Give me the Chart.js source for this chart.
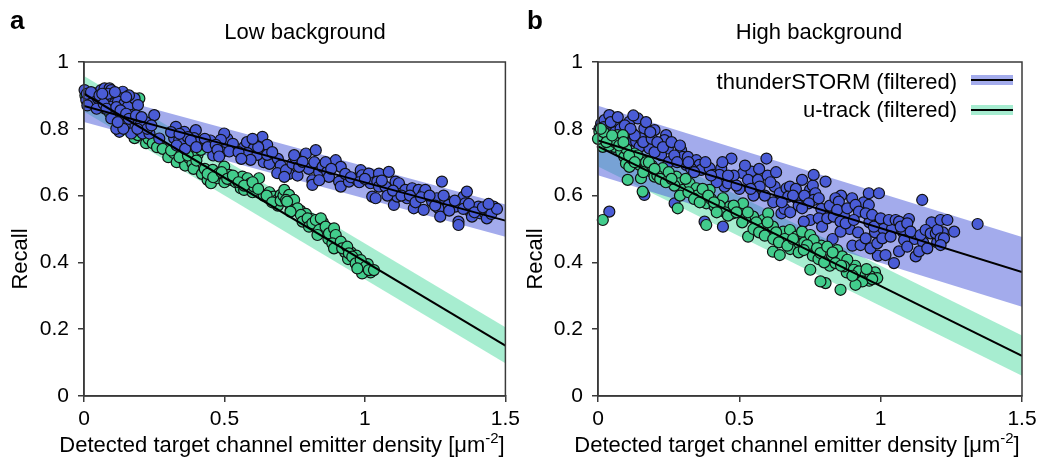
<!DOCTYPE html>
<html>
<head>
<meta charset="utf-8">
<script src="https://cdn.jsdelivr.net/npm/chart.js@4.4.1/dist/chart.umd.min.js"></script>
<style>
  html, body { margin: 0; padding: 0; background: #fff; }
  #wrap { position: relative; width: 1051px; height: 465px; overflow: hidden; background: #fff; }
  #wrap canvas { position: absolute; top: 0; }
</style>
</head>
<body>
<div id="wrap">
  <canvas id="panelA" width="525" height="465" style="left:0"></canvas>
  <canvas id="panelB" width="536" height="465" style="left:515px"></canvas>
</div>
<script>
// ---- axes and labels ----
const xTicks = [0, 0.5, 1, 1.5];
const xTickLabels = ['0', '0.5', '1', '1.5'];
const yTicks = [0, 0.2, 0.4, 0.6, 0.8, 1];
const yTickLabels = ['0', '0.2', '0.4', '0.6', '0.8', '1'];
const xTitleParts = ['Detected target channel emitter density [\u03bcm', '-2', ']'];
const yTitle = 'Recall';
const panelTitles = ['Low background', 'High background'];
const panelLetters = ['a', 'b'];
const seriesNames = ['thunderSTORM (filtered)', 'u-track (filtered)'];

// ---- linear fits (value at x = 0 and x = 1.5) and their bands ----
const fitX = [0, 1.5];
const lowTsFit = [0.868, 0.525];
const lowTsBandHi = [0.916, 0.573];
const lowTsBandLo = [0.820, 0.477];
const lowUtFit = [0.905, 0.151];
const lowUtBandHi = [0.958, 0.206];
const lowUtBandLo = [0.852, 0.098];
const highTsFit = [0.765, 0.371];
const highTsBandHi = [0.869, 0.476];
const highTsBandLo = [0.661, 0.267];
const highUtFit = [0.747, 0.120];
const highUtBandHi = [0.807, 0.181];
const highUtBandLo = [0.687, 0.061];

// ---- measurements: [density, recall] ----
const lowTs = [
  [0.002,0.916],[0.020,0.896],[0.008,0.886],[0.032,0.881],[0.050,0.891],[0.038,0.906],[0.061,0.916],
  [0.073,0.921],[0.091,0.921],[0.097,0.916],[0.103,0.901],[0.085,0.891],[0.067,0.891],[0.138,0.911],
  [0.132,0.891],[0.109,0.876],[0.097,0.866],[0.121,0.881],[0.144,0.876],[0.156,0.866],[0.180,0.891],
  [0.192,0.871],[0.103,0.856],[0.109,0.841],[0.126,0.836],[0.097,0.831],[0.168,0.841],[0.180,0.826],
  [0.174,0.811],[0.192,0.821],[0.215,0.801],[0.168,0.786],[0.197,0.796],[0.209,0.786],[0.233,0.786],
  [0.250,0.841],[0.126,0.791],[0.268,0.771],[0.012,0.870],[0.045,0.860],[0.160,0.900],[0.085,0.905],
  [0.145,0.810],[0.115,0.800],[0.220,0.820],[0.010,0.905],[0.025,0.910],[0.055,0.900],[0.070,0.875],
  [0.080,0.860],[0.115,0.865],[0.130,0.855],[0.150,0.845],[0.160,0.830],[0.185,0.840],[0.200,0.810],
  [0.205,0.835],[0.225,0.800],[0.240,0.810],[0.190,0.800],[0.140,0.800],[0.065,0.905],[0.110,0.910],
  [0.150,0.895],[0.120,0.820],
  [0.327,0.806],[0.357,0.791],[0.321,0.772],[0.339,0.767],[0.351,0.757],[0.398,0.796],[0.392,0.772],
  [0.370,0.775],[0.330,0.750],[0.410,0.760],[0.450,0.765],[0.500,0.750],[0.460,0.720],[0.310,0.790],
  [0.340,0.785],[0.360,0.740],[0.380,0.765],[0.400,0.745],[0.430,0.770],[0.440,0.745],[0.490,0.730],
  [0.510,0.770],[0.530,0.755],[0.570,0.745],[0.580,0.760],[0.630,0.730],[0.640,0.700],[0.660,0.695],
  [0.690,0.710],[0.700,0.690],[0.730,0.665],[0.760,0.660],[0.800,0.680],[0.820,0.700],
  [0.499,0.786],[0.487,0.767],[0.469,0.752],[0.475,0.737],[0.517,0.732],[0.481,0.717],
  [0.635,0.776],[0.652,0.752],[0.605,0.742],[0.582,0.727],[0.617,0.722],[0.593,0.707],[0.652,0.722],
  [0.550,0.730],[0.620,0.745],[0.600,0.770],[0.670,0.730],[0.560,0.710],[0.688,0.667],
  [0.719,0.676],[0.713,0.656],[0.742,0.696],[0.754,0.711],[0.766,0.686],[0.748,0.721],[0.790,0.726],
  [0.825,0.736],[0.778,0.701],[0.813,0.646],[0.813,0.632],[0.837,0.671],[0.849,0.686],[0.866,0.671],
  [0.872,0.656],[0.837,0.646],[0.896,0.706],[0.914,0.686],[0.908,0.642],[0.914,0.627],[0.943,0.642],
  [0.967,0.651],[0.985,0.676],[0.990,0.661],[1.014,0.666],[1.050,0.666],[1.020,0.637],[1.044,0.642],
  [1.050,0.627],[1.026,0.597],[1.038,0.592],[1.073,0.627],[1.085,0.671],[1.109,0.642],[1.121,0.637],
  [1.103,0.572],[1.115,0.597],[1.144,0.617],[1.150,0.592],[1.168,0.622],[1.174,0.562],[1.191,0.617],
  [1.209,0.607],[1.215,0.617],[1.209,0.557],[1.239,0.582],[1.256,0.592],[1.274,0.642],[1.262,0.562],
  [1.268,0.537],[1.286,0.587],[1.298,0.572],[1.322,0.567],[1.333,0.522],[1.333,0.512],[1.351,0.597],
  [1.363,0.612],[1.357,0.577],[1.375,0.552],[1.381,0.537],[1.404,0.567],[1.410,0.547],[1.428,0.547],
  [1.446,0.562],[1.458,0.567],[1.434,0.532],[0.860,0.700],[0.880,0.680],[0.930,0.665],[0.950,0.655],
  [0.980,0.640],[1.000,0.650],[1.060,0.645],[1.080,0.600],[1.100,0.615],[1.130,0.600],[1.160,0.600],
  [1.180,0.580],[1.200,0.595],[1.230,0.600],[1.250,0.570],[1.280,0.600],[1.300,0.555],[1.320,0.585],
  [1.350,0.560],[1.370,0.575],[1.390,0.550],[1.420,0.565],[1.450,0.545],[1.470,0.560],[1.440,0.575]
];
const lowUt = [
  [0.005,0.900],[0.015,0.885],[0.030,0.895],[0.045,0.870],[0.060,0.880],[0.075,0.860],[0.090,0.850],
  [0.110,0.845],[0.125,0.830],[0.140,0.820],[0.155,0.800],[0.170,0.810],[0.197,0.891],[0.180,0.772],
  [0.192,0.781],[0.210,0.790],[0.221,0.757],[0.230,0.770],[0.245,0.757],[0.260,0.745],[0.280,0.740],
  [0.300,0.715],[0.321,0.727],[0.330,0.700],[0.345,0.722],[0.357,0.702],[0.360,0.690],[0.375,0.712],
  [0.386,0.697],[0.390,0.680],[0.404,0.722],[0.416,0.737],[0.420,0.665],[0.430,0.680],[0.440,0.647],
  [0.452,0.637],[0.458,0.677],[0.470,0.660],[0.475,0.652],[0.481,0.667],[0.499,0.687],[0.500,0.640],
  [0.517,0.662],[0.523,0.647],[0.540,0.640],[0.558,0.622],[0.564,0.657],[0.570,0.617],[0.582,0.652],
  [0.593,0.637],[0.600,0.610],[0.605,0.627],[0.623,0.652],[0.640,0.600],[0.658,0.592],[0.660,0.610],
  [0.676,0.597],[0.688,0.587],[0.690,0.570],[0.700,0.602],
  [0.310,0.735],[0.340,0.715],[0.370,0.720],[0.400,0.705],[0.440,0.665],[0.460,0.655],[0.490,0.670],
  [0.510,0.650],[0.530,0.660],[0.550,0.640],[0.570,0.630],[0.600,0.640],[0.620,0.620],[0.650,0.600],
  [0.670,0.580],[0.700,0.585],[0.710,0.600],[0.740,0.575],[0.750,0.560],[0.770,0.555],[0.790,0.545],
  [0.810,0.530],[0.830,0.510],[0.850,0.520],[0.870,0.470],[0.880,0.500],[0.900,0.465],[0.920,0.450],
  [0.930,0.430],[0.950,0.430],[0.960,0.410],[0.980,0.390],[1.000,0.375],[1.010,0.395],[1.020,0.370],
  [0.990,0.380],[0.940,0.410],[0.970,0.420],
  [0.713,0.617],[0.730,0.602],[0.719,0.587],[0.748,0.587],[0.736,0.557],[0.760,0.562],[0.772,0.542],
  [0.778,0.522],[0.796,0.532],[0.801,0.507],[0.813,0.517],[0.825,0.527],[0.843,0.532],[0.837,0.497],
  [0.831,0.482],[0.860,0.507],[0.872,0.487],[0.890,0.502],[0.896,0.482],[0.884,0.457],[0.890,0.442],
  [0.914,0.462],[0.919,0.442],[0.937,0.447],[0.943,0.427],[0.955,0.417],[0.967,0.397],[0.985,0.407],
  [0.990,0.367],[1.002,0.387],[1.014,0.377],[1.032,0.377],[0.973,0.382],[0.723,0.582],[0.735,0.552]
];
const highTs = [
  [0.011,0.816],[0.023,0.826],[0.040,0.841],[0.058,0.821],[0.034,0.801],[0.111,0.821],[0.141,0.831],
  [0.164,0.801],[0.200,0.796],[0.105,0.761],[0.135,0.761],[0.147,0.746],[0.182,0.741],[0.241,0.781],
  [0.235,0.766],[0.247,0.741],[0.223,0.721],[0.294,0.736],[0.300,0.716],[0.318,0.716],[0.312,0.692],
  [0.348,0.706],[0.359,0.692],[0.365,0.677],[0.395,0.682],[0.407,0.662],[0.436,0.682],[0.430,0.662],
  [0.472,0.711],[0.448,0.627],[0.460,0.637],[0.513,0.667],[0.543,0.672],[0.531,0.647],[0.566,0.647],
  [0.572,0.627],[0.596,0.711],[0.625,0.627],[0.643,0.607],[0.667,0.622],[0.679,0.627],[0.673,0.597],
  [0.750,0.617],[0.755,0.597],[0.702,0.592],[0.649,0.547],[0.040,0.552],[0.164,0.602],
  [0.271,0.577],[0.377,0.522],[0.442,0.507],[0.123,0.786],[0.152,0.771],[0.265,0.657],
  [0.005,0.800],[0.015,0.780],[0.030,0.770],[0.060,0.790],[0.080,0.800],[0.090,0.770],[0.130,0.780],
  [0.160,0.760],[0.190,0.770],[0.200,0.730],[0.250,0.700],[0.270,0.720],[0.330,0.680],[0.420,0.640],
  [0.480,0.660],[0.500,0.620],[0.550,0.600],[0.600,0.660],[0.620,0.580],[0.660,0.560],[0.700,0.620],
  [0.680,0.550],[0.020,0.805],[0.045,0.820],[0.070,0.835],[0.095,0.810],[0.115,0.800],[0.125,0.840],
  [0.170,0.820],[0.185,0.790],[0.210,0.760],[0.230,0.745],[0.260,0.760],[0.280,0.700],[0.290,0.750],
  [0.320,0.700],[0.340,0.670],[0.380,0.700],[0.400,0.660],[0.440,0.700],[0.460,0.660],[0.490,0.630],
  [0.520,0.690],[0.540,0.620],[0.570,0.680],[0.590,0.600],[0.610,0.640],[0.630,0.670],[0.650,0.580],
  [0.690,0.600],[0.710,0.570],[0.730,0.600],[0.760,0.630],[0.790,0.560],[0.820,0.570],[0.860,0.600],
  [0.870,0.540],[0.890,0.500],[0.920,0.490],[0.940,0.580],[0.960,0.520],[0.980,0.490],[1.010,0.500],
  [1.040,0.500],[1.080,0.490],[1.100,0.530],[1.120,0.470],[1.150,0.460],[1.180,0.520],[1.200,0.460],
  [1.220,0.490],[0.830,0.470],[0.900,0.450],[0.990,0.420],
  [0.722,0.647],[0.763,0.662],[0.805,0.642],[0.769,0.607],[0.763,0.587],[0.746,0.577],[0.781,0.592],
  [0.722,0.562],[0.751,0.527],[0.781,0.532],[0.793,0.507],[0.728,0.522],[0.811,0.532],[0.834,0.537],
  [0.840,0.592],[0.852,0.582],[0.846,0.557],[0.858,0.522],[0.858,0.492],[0.876,0.517],[0.882,0.562],
  [0.899,0.592],[0.911,0.572],[0.923,0.552],[0.905,0.527],[0.929,0.452],[0.947,0.472],[0.958,0.607],
  [0.994,0.607],[0.958,0.572],[0.947,0.547],[0.970,0.542],[0.976,0.507],[0.964,0.442],[0.988,0.457],
  [1.000,0.532],[1.006,0.472],[1.017,0.422],[1.029,0.527],[1.035,0.477],[1.053,0.527],[1.065,0.522],
  [1.071,0.507],[1.094,0.517],[1.106,0.492],[1.083,0.467],[1.065,0.433],[1.047,0.398],[1.094,0.447],
  [1.124,0.418],[1.136,0.433],[1.147,0.587],[1.141,0.482],[1.159,0.497],[1.177,0.487],[1.195,0.487],
  [1.201,0.497],[1.212,0.472],[1.224,0.472],[1.212,0.452],[1.165,0.442],[1.212,0.527],[1.236,0.527],
  [1.260,0.492],[1.343,0.515]
];
const highUt = [
  [0.005,0.791],[0.011,0.771],[0.017,0.746],[0.028,0.781],[0.046,0.766],[0.058,0.746],[0.070,0.781],
  [0.088,0.781],[0.082,0.731],[0.093,0.716],[0.099,0.696],[0.111,0.686],[0.129,0.726],[0.147,0.692],
  [0.158,0.706],[0.170,0.686],[0.188,0.672],[0.200,0.657],[0.105,0.647],[0.152,0.652],[0.158,0.612],
  [0.229,0.682],[0.277,0.657],[0.288,0.637],[0.300,0.617],[0.324,0.637],[0.336,0.607],[0.348,0.622],
  [0.371,0.597],[0.383,0.577],[0.395,0.617],[0.413,0.567],[0.442,0.592],[0.466,0.567],[0.478,0.547],
  [0.501,0.552],[0.513,0.577],[0.531,0.477],[0.549,0.537],[0.584,0.527],[0.602,0.547],[0.619,0.507],
  [0.637,0.477],[0.655,0.492],[0.679,0.497],[0.702,0.477],[0.726,0.467],[0.750,0.447],[0.619,0.432],
  [0.643,0.422],[0.282,0.562],[0.017,0.527],[0.383,0.512],
  [0.000,0.770],[0.020,0.790],[0.040,0.750],[0.060,0.760],[0.100,0.740],[0.120,0.710],[0.140,0.720],
  [0.170,0.700],[0.190,0.690],[0.210,0.660],[0.250,0.670],[0.270,0.630],[0.310,0.650],[0.350,0.600],
  [0.370,0.620],[0.400,0.590],[0.430,0.570],[0.450,0.550],[0.480,0.570],[0.520,0.530],[0.560,0.520],
  [0.580,0.500],[0.600,0.520],[0.630,0.490],[0.660,0.470],[0.700,0.460],[0.680,0.440],
  [0.010,0.800],[0.030,0.760],[0.050,0.780],[0.075,0.750],[0.090,0.760],[0.110,0.720],[0.130,0.700],
  [0.160,0.670],[0.180,0.700],[0.200,0.680],[0.220,0.650],[0.240,0.640],[0.260,0.650],[0.290,0.600],
  [0.320,0.610],[0.340,0.590],[0.360,0.580],[0.390,0.600],[0.410,0.580],[0.420,0.550],[0.460,0.540],
  [0.490,0.550],[0.510,0.520],[0.530,0.550],[0.550,0.500],[0.570,0.490],[0.590,0.480],[0.620,0.470],
  [0.640,0.460],[0.670,0.450],[0.690,0.470],[0.710,0.430],[0.730,0.460],[0.760,0.420],[0.780,0.410],
  [0.790,0.450],[0.820,0.390],[0.850,0.410],[0.880,0.370],[0.910,0.390],[0.930,0.360],[0.960,0.345],
  [0.980,0.370],
  [0.722,0.492],[0.751,0.482],[0.763,0.467],[0.740,0.452],[0.728,0.437],[0.775,0.443],[0.787,0.428],
  [0.811,0.447],[0.828,0.418],[0.846,0.437],[0.864,0.418],[0.882,0.408],[0.840,0.398],[0.870,0.388],
  [0.905,0.378],[0.923,0.373],[0.947,0.363],[0.964,0.358],[0.988,0.353],[0.935,0.343],[0.911,0.333],
  [0.805,0.338],[0.787,0.343],[0.858,0.318],[0.751,0.378],[0.800,0.400],[0.830,0.430],[0.860,0.390],
  [0.900,0.360],[0.950,0.380],[0.970,0.350]
];

// ---- styling ----
const FONT = "'Liberation Sans', Arial, Helvetica, sans-serif";
const LABEL_SIZE = 22;
const AXIS = '#3a3a3a';
const TS_POINT = 'rgb(74, 92, 214)';
const UT_POINT = 'rgb(66, 204, 140)';
const TS_BAND = 'rgba(72, 88, 218, 0.5)';
const UT_BAND = 'rgba(60, 214, 150, 0.45)';
const LEGEND_TS = 'rgb(164, 172, 236)';
const LEGEND_UT = 'rgb(166, 236, 208)';

Chart.defaults.color = '#000';
Chart.defaults.font.family = FONT;

const toXY = (pairs) => pairs.map(([x, y]) => ({ x, y }));
const lineXY = (ys) => fitX.map((x, i) => ({ x, y: ys[i] }));

function label(ctx, str, x, y, size, align, opts = {}) {
  ctx.save();
  ctx.font = (opts.bold ? 'bold ' : '') + size + 'px ' + FONT;
  ctx.textBaseline = opts.baseline || 'alphabetic';
  ctx.textAlign = align;
  ctx.fillStyle = '#000';
  ctx.translate(x, y);
  if (opts.rotate) ctx.rotate(opts.rotate);
  ctx.fillText(str, 0, 0);
  ctx.restore();
}
function textWidth(ctx, str, size) {
  ctx.save();
  ctx.font = size + 'px ' + FONT;
  const w = ctx.measureText(str).width;
  ctx.restore();
  return w;
}

// frame, titles, axis titles, panel letter and (optionally) the legend
const decorPlugin = {
  id: 'decor',
  afterDraw(chart, args, o) {
    const { ctx, chartArea: a } = chart;
    ctx.save();
    ctx.strokeStyle = AXIS;
    ctx.lineWidth = 1.5;
    ctx.strokeRect(a.left, a.top, a.right - a.left, a.bottom - a.top);
    ctx.restore();

    label(ctx, o.letter, o.letterX, 29, 26, 'left', { bold: true });
    label(ctx, o.title, o.titleX, 33, LABEL_SIZE, 'center', { baseline: 'middle' });
    label(ctx, yTitle, 21, o.yTitleY, LABEL_SIZE, 'center', { baseline: 'middle', rotate: -Math.PI / 2 });

    // x-axis title with a raised exponent
    const [main, sup, tail] = xTitleParts;
    const supSize = 15;
    const wMain = textWidth(ctx, main, LABEL_SIZE), wSup = textWidth(ctx, sup, supSize), wTail = textWidth(ctx, tail, LABEL_SIZE);
    let x = o.xTitleX - (wMain + wSup + wTail) / 2;
    label(ctx, main, x, 452, LABEL_SIZE, 'left'); x += wMain;
    label(ctx, sup, x, 443, supSize, 'left'); x += wSup;
    label(ctx, tail, x, 452, LABEL_SIZE, 'left');

    if (o.legend) {
      const entries = [
        { text: seriesNames[0], fill: LEGEND_TS, y: 80, mid: 83 },
        { text: seriesNames[1], fill: LEGEND_UT, y: 110, mid: 111 }
      ];
      entries.forEach((e) => {
        label(ctx, e.text, o.legendTextRight, e.mid, LABEL_SIZE, 'right', { baseline: 'middle' });
        ctx.save();
        ctx.fillStyle = e.fill;
        ctx.fillRect(o.legendBoxLeft, e.y - 5, 42, 10);
        ctx.strokeStyle = '#000';
        ctx.lineWidth = 2;
        ctx.beginPath();
        ctx.moveTo(o.legendBoxLeft, e.y);
        ctx.lineTo(o.legendBoxLeft + 42, e.y);
        ctx.stroke();
        ctx.restore();
      });
    }
  }
};

function makePanel(canvasId, p) {
  const datasets = [
    { type: 'line', data: lineXY(p.tsHi), borderWidth: 0, pointRadius: 0, fill: false, order: 5 },
    { type: 'line', data: lineXY(p.tsLo), borderWidth: 0, pointRadius: 0, fill: '-1', backgroundColor: TS_BAND, order: 5 },
    { type: 'line', data: lineXY(p.utHi), borderWidth: 0, pointRadius: 0, fill: false, order: 6 },
    { type: 'line', data: lineXY(p.utLo), borderWidth: 0, pointRadius: 0, fill: '-1', backgroundColor: UT_BAND, order: 6 },
    { label: seriesNames[0], data: toXY(p.ts), backgroundColor: TS_POINT, borderColor: '#111',
      borderWidth: 1.2, pointRadius: 5.5, clip: false, order: p.tsOrder },
    { label: seriesNames[1], data: toXY(p.ut), backgroundColor: UT_POINT, borderColor: '#111',
      borderWidth: 1.2, pointRadius: 5.5, clip: false, order: p.utOrder },
    { type: 'line', data: lineXY(p.tsFit), borderColor: '#000', borderWidth: 2, pointRadius: 0, fill: false, order: 0 },
    { type: 'line', data: lineXY(p.utFit), borderColor: '#000', borderWidth: 2, pointRadius: 0, fill: false, order: 0 }
  ];
  return new Chart(document.getElementById(canvasId), {
    type: 'scatter',
    data: { datasets },
    options: {
      responsive: false,
      animation: false,
      events: [],
      layout: { padding: { left: 0, right: p.padRight, top: 62, bottom: 0 } },
      plugins: {
        legend: { display: false },
        tooltip: { enabled: false },
        title: { display: false },
        decor: p.decor
      },
      scales: {
        x: {
          type: 'linear', min: 0, max: 1.5,
          afterBuildTicks: (s) => { s.ticks = xTicks.map((v) => ({ value: v })); },
          afterFit: (s) => { s.height = 69; },
          ticks: { autoSkip: false, maxRotation: 0, padding: 5, font: { size: 21 },
                   callback: (v, i) => xTickLabels[i] },
          grid: { display: true, drawOnChartArea: false, drawTicks: true, tickLength: 6,
                  color: AXIS, lineWidth: 1.5 },
          border: { display: true, color: AXIS, width: 1.5 },
          title: { display: false }
        },
        y: {
          type: 'linear', min: 0, max: 1,
          afterBuildTicks: (s) => { s.ticks = yTicks.map((v) => ({ value: v })); },
          afterFit: (s) => { s.width = p.yWidth; },
          ticks: { autoSkip: false, padding: 9, font: { size: 21 },
                   callback: (v, i) => yTickLabels[i] },
          grid: { display: true, drawOnChartArea: false, drawTicks: true, tickLength: 6,
                  color: AXIS, lineWidth: 1.5 },
          border: { display: true, color: AXIS, width: 1.5 },
          title: { display: false }
        }
      }
    },
    plugins: [decorPlugin]
  });
}

makePanel('panelA', {
  yWidth: 84, padRight: 18, tsOrder: 1, utOrder: 2,
  ts: lowTs, ut: lowUt,
  tsFit: lowTsFit, tsHi: lowTsBandHi, tsLo: lowTsBandLo,
  utFit: lowUtFit, utHi: lowUtBandHi, utLo: lowUtBandLo,
  decor: { letter: panelLetters[0], letterX: 10, title: panelTitles[0], titleX: 305,
           yTitleY: 259, xTitleX: 282, legend: false }
});
makePanel('panelB', {
  yWidth: 83, padRight: 29, tsOrder: 2, utOrder: 1,
  ts: highTs, ut: highUt,
  tsFit: highTsFit, tsHi: highTsBandHi, tsLo: highTsBandLo,
  utFit: highUtFit, utHi: highUtBandHi, utLo: highUtBandLo,
  decor: { letter: panelLetters[1], letterX: 12, title: panelTitles[1], titleX: 304,
           yTitleY: 259, xTitleX: 282, legend: true, legendTextRight: 442, legendBoxLeft: 456 }
});
</script>
</body>
</html>
